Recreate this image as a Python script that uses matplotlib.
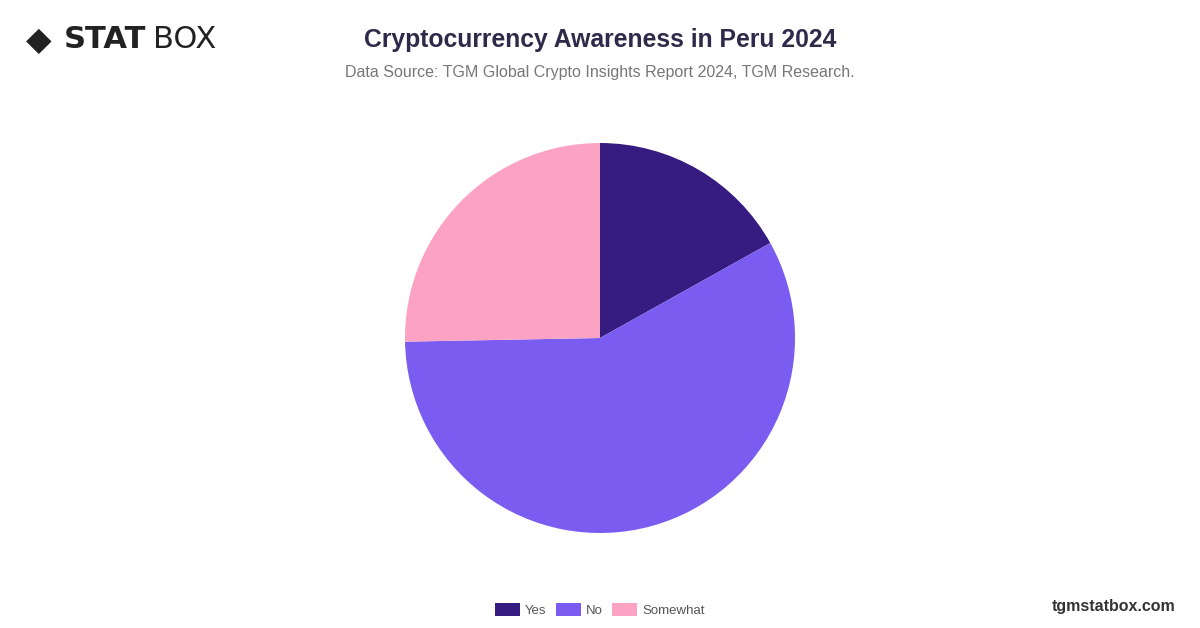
import matplotlib.pyplot as plt
from matplotlib.patches import Patch

labels = ["Yes", "No", "Somewhat"]
values = [16.9, 57.8, 25.3]
colors = ["#361c80", "#7b5cf0", "#fca3c4"]

fig = plt.figure(figsize=(12, 6.28), dpi=100)
fig.patch.set_facecolor("white")

# pie area, centred around (600, 338) px with radius ~195 px
w = 390 / 1200
h = 390 / 628
ax = fig.add_axes([0.5 - w / 2, 1 - 338 / 628 - h / 2, w, h])
ax.pie(values, colors=colors, startangle=90, counterclock=False,
       wedgeprops=dict(linewidth=0))
ax.set_xlim(-1, 1)
ax.set_ylim(-1, 1)
ax.set_aspect("equal")

fig.text(0.5, 1 - 40 / 628, "Cryptocurrency Awareness in Peru 2024",
         ha="center", va="center", fontsize=17.8, fontweight="bold", color="#2e2b4a",
         family="Liberation Sans")
fig.text(0.5, 1 - 72 / 628, "Data Source: TGM Global Crypto Insights Report 2024, TGM Research.",
         ha="center", va="center", fontsize=11.5, color="#777777", family="Liberation Sans")

# logo
fig.text(26 / 1200, 1 - 40 / 628, "◆", fontsize=24, color="#222222", va="center")
fig.text(64 / 1200, 1 - 40 / 628, "STAT", fontsize=22, fontweight="bold", color="#222222", va="center")
fig.text(153 / 1200, 1 - 40 / 628, "BOX", fontsize=22, color="#222222", va="center")

fig.text(1176 / 1200, 1 - 606 / 628, "tgmstatbox.com", ha="right", va="center",
         fontsize=11.5, fontweight="bold", color="#333333", family="Liberation Sans")

handles = [Patch(facecolor=c, edgecolor="none") for c in colors]
fig.legend(handles, labels, loc="center", bbox_to_anchor=(0.5, 1 - 610 / 628),
           ncol=3, frameon=False, handlelength=1.9, handleheight=1.1,
           columnspacing=0.7, handletextpad=0.4, labelcolor="#555555",
           prop={"family": "Liberation Sans", "size": 9.5})

plt.savefig("out.png")
